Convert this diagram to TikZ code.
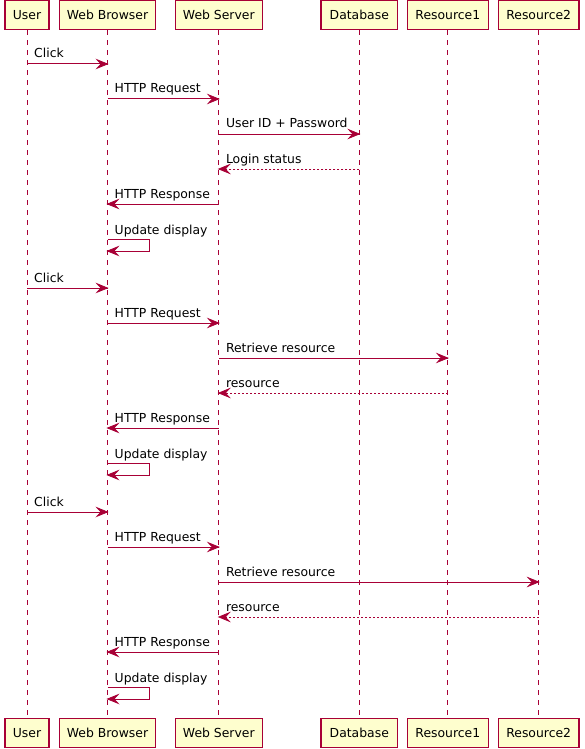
\documentclass[tikz,border=0pt]{standalone}
\usepackage{fontspec}
\setmainfont{DejaVu Sans}

\definecolor{umlred}{HTML}{A80036}
\definecolor{umlfill}{HTML}{FEFECE}

\tikzset{
    actor/.style={draw=umlred, fill=umlfill, line width=1.5pt, minimum height=29pt, inner sep=0pt, font=\fontsize{12.4}{14}\selectfont},
    life/.style={draw=umlred, line width=1pt, dash pattern=on 5pt off 5pt},
    msg/.style={draw=umlred, line width=1pt},
    reply/.style={msg, dash pattern=on 2pt off 2pt},
    head/.style={fill=umlred, draw=umlred, line width=0.8pt, line join=miter},
    lbl/.style={anchor=base west, inner sep=0pt, font=\fontsize{12.4}{14}\selectfont}
}

% notched arrow heads, pointing right or left
\newcommand{\headR}[1]{\filldraw[head] (#1) -- ++(-10.5,4.3) -- ++(4,-4.3) -- ++(-4,-4.3) -- cycle;}
\newcommand{\headL}[1]{\filldraw[head] (#1) -- ++(10.5,4.3) -- ++(-4,-4.3) -- ++(4,-4.3) -- cycle;}

\begin{document}
\begin{tikzpicture}[x=1pt,y=1pt]

            \useasboundingbox (0,0) rectangle (584,-749);

            % participants, top and bottom
            \node[actor, minimum width=44pt]   (user)    at (27,-15)    {User};
            \node[actor, minimum width=96.4pt] (browser) at (107.5,-15) {Web Browser};
            \node[actor, minimum width=87pt]   (server)  at (218.8,-15) {Web Server};
            \node[actor, minimum width=76.3pt] (db)      at (359.3,-15) {Database};
            \node[actor, minimum width=81pt]   (resA)    at (447.8,-15) {Resource1};
            \node[actor, minimum width=80.7pt] (resB)    at (538.7,-15) {Resource2};

            \node[actor, minimum width=44pt]   (userB)    at (27,-733)    {User};
            \node[actor, minimum width=96.4pt] (browserB) at (107.5,-733) {Web Browser};
            \node[actor, minimum width=87pt]   (serverB)  at (218.8,-733) {Web Server};
            \node[actor, minimum width=76.3pt] (dbB)      at (359.3,-733) {Database};
            \node[actor, minimum width=81pt]   (resAB)    at (447.8,-733) {Resource1};
            \node[actor, minimum width=80.7pt] (resBB)    at (538.7,-733) {Resource2};

            \foreach \p in {user,browser,server,db,resA,resB} {
                \draw[life] (\p.south) -- (\p B.north);
            }

            % login
            \draw[msg] (user |- 0,-64) -- (browser |- 0,-64);  \headR{browser |- 0,-64}
            \node[lbl, xshift=7] (m1) at (user |- 0,-58) {Click};
            \draw[msg] (browser |- 0,-99) -- (server |- 0,-99);  \headR{server |- 0,-99}
            \node[lbl, xshift=7] (m2) at (browser |- 0,-93) {HTTP Request};
            \draw[msg] (server |- 0,-134) -- (db |- 0,-134);  \headR{db |- 0,-134}
            \node[lbl, xshift=7] (m3) at (server |- 0,-128) {User ID + Password};
            \draw[reply] (db |- 0,-169) -- (server |- 0,-169);  \headL{server |- 0,-169}
            \node[lbl, xshift=7] (m4) at (server |- 0,-163) {Login status};
            \draw[msg] (server |- 0,-204) -- (browser |- 0,-204);  \headL{browser |- 0,-204}
            \node[lbl, xshift=7] (m5) at (browser |- 0,-198) {HTTP Response};
            \draw[msg] (browser |- 0,-239) -- ++(42,0) -- ++(0,-12) -- (browser |- 0,-251);  \headL{browser |- 0,-251}
            \node[lbl, xshift=7] (m6) at (browser |- 0,-234) {Update display};

            % first resource
            \draw[msg] (user |- 0,-288) -- (browser |- 0,-288);  \headR{browser |- 0,-288}
            \node[lbl, xshift=7] (m7) at (user |- 0,-282) {Click};
            \draw[msg] (browser |- 0,-323) -- (server |- 0,-323);  \headR{server |- 0,-323}
            \node[lbl, xshift=7] (m8) at (browser |- 0,-317) {HTTP Request};
            \draw[msg] (server |- 0,-358) -- (resA |- 0,-358);  \headR{resA |- 0,-358}
            \node[lbl, xshift=7] (m9) at (server |- 0,-352) {Retrieve resource};
            \draw[reply] (resA |- 0,-393) -- (server |- 0,-393);  \headL{server |- 0,-393}
            \node[lbl, xshift=7] (m10) at (server |- 0,-387) {resource};
            \draw[msg] (server |- 0,-428) -- (browser |- 0,-428);  \headL{browser |- 0,-428}
            \node[lbl, xshift=7] (m11) at (browser |- 0,-422) {HTTP Response};
            \draw[msg] (browser |- 0,-463) -- ++(42,0) -- ++(0,-12) -- (browser |- 0,-475);  \headL{browser |- 0,-475}
            \node[lbl, xshift=7] (m12) at (browser |- 0,-458) {Update display};

            % second resource
            \draw[msg] (user |- 0,-512) -- (browser |- 0,-512);  \headR{browser |- 0,-512}
            \node[lbl, xshift=7] (m13) at (user |- 0,-506) {Click};
            \draw[msg] (browser |- 0,-547) -- (server |- 0,-547);  \headR{server |- 0,-547}
            \node[lbl, xshift=7] (m14) at (browser |- 0,-541) {HTTP Request};
            \draw[msg] (server |- 0,-582) -- (resB |- 0,-582);  \headR{resB |- 0,-582}
            \node[lbl, xshift=7] (m15) at (server |- 0,-576) {Retrieve resource};
            \draw[reply] (resB |- 0,-617) -- (server |- 0,-617);  \headL{server |- 0,-617}
            \node[lbl, xshift=7] (m16) at (server |- 0,-611) {resource};
            \draw[msg] (server |- 0,-652) -- (browser |- 0,-652);  \headL{browser |- 0,-652}
            \node[lbl, xshift=7] (m17) at (browser |- 0,-646) {HTTP Response};
            \draw[msg] (browser |- 0,-687) -- ++(42,0) -- ++(0,-12) -- (browser |- 0,-699);  \headL{browser |- 0,-699}
            \node[lbl, xshift=7] (m18) at (browser |- 0,-682) {Update display};

        \end{tikzpicture}
\end{document}
